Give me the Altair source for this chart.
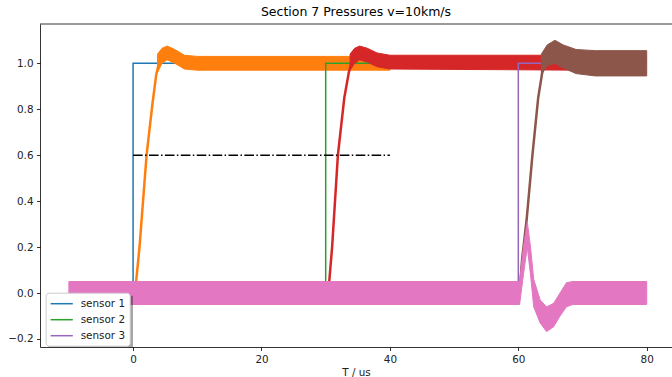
import altair as alt
import pandas as pd

# ---- data ----
# ideal step signals (legend entries)
step_sensor = ["sensor 1"] * 3 + ["sensor 2"] * 3 + ["sensor 3"] * 3
step_t = [0, 0, 40, 30, 30, 65, 60, 60, 75]
step_p = [0, 1, 1, 0, 1, 1, 0, 1, 1]

# measured trace 1 (orange): centre line + noise envelope
s1_t = [-10, 0.3, 1.0, 2.1, 3.0, 3.6, 4.2, 5.0, 6.0, 7.0, 8.5, 10, 40]
s1_p = [0, 0, 0.2, 0.6, 0.82, 0.95, 1.02, 1.045, 1.04, 1.02, 1.0, 0.998, 1.0]
s1_bt = [3.8, 4.5, 5.3, 6.5, 8.0, 10, 40]
s1_lo = [0.96, 1.0, 1.015, 1.0, 0.975, 0.97, 0.97]
s1_hi = [1.04, 1.065, 1.075, 1.06, 1.035, 1.03, 1.03]

# measured trace 2 (red)
s2_t = [-10, 30.4, 31.0, 31.9, 32.9, 33.6, 34.2, 35.0, 36.0, 37.0, 38.5, 40, 70]
s2_p = [0, 0, 0.2, 0.6, 0.85, 0.96, 1.02, 1.045, 1.04, 1.025, 1.01, 1.005, 1.0]
s2_bt = [33.8, 34.5, 35.3, 36.5, 38.0, 40, 70]
s2_lo = [0.97, 1.0, 1.015, 1.005, 0.985, 0.975, 0.97]
s2_hi = [1.04, 1.065, 1.075, 1.065, 1.045, 1.035, 1.035]

# measured trace 3 (brown)
s3_t = [-10, 60.2, 60.6, 61.3, 62.2, 63.1, 63.9, 64.8, 65.7, 67.0, 68.5, 70, 80]
s3_p = [0, 0, 0.15, 0.32, 0.6, 0.85, 0.99, 1.04, 1.05, 1.03, 1.01, 1.0, 1.0]
s3_bt = [63.6, 64.5, 65.7, 67.0, 69.0, 72.0, 80]
s3_lo = [0.95, 0.99, 1.0, 0.98, 0.955, 0.945, 0.945]
s3_hi = [1.04, 1.08, 1.1, 1.08, 1.06, 1.055, 1.055]

# pink trace: noise envelope only
pk_t = [-10, 60.2, 60.8, 61.4, 61.9, 62.4, 63.4, 64.4, 65.5, 66.5, 67.5, 68.5, 80]
pk_hi = [0.05, 0.05, 0.2, 0.31, 0.2, 0.06, -0.03, -0.06, -0.045, 0.0, 0.045, 0.05, 0.05]
pk_lo = [-0.05, -0.05, 0.08, 0.2, 0.08, -0.06, -0.13, -0.168, -0.147, -0.1, -0.06, -0.05, -0.05]

# dash-dot reference level
ref_t = [0, 40]
ref_p = [0.6, 0.6]

x_ticks = [0, 20, 40, 60, 80]
y_ticks = [-0.2, 0.0, 0.2, 0.4, 0.6, 0.8, 1.0]

FONT = "DejaVu Sans"
W, H = 632, 323

xscale = alt.Scale(domain=[-14.5, 83.94], nice=False, zero=False)
yscale = alt.Scale(domain=[-0.235, 1.171], nice=False, zero=False)
xaxis = alt.Axis(values=x_ticks, title="T / us", format="d", titlePadding=3)
yaxis = alt.Axis(values=y_ticks, title=None, format=".1f")


def X(f):
    return alt.X(f"{f}:Q", scale=xscale, axis=xaxis)


def Y(f):
    return alt.Y(f"{f}:Q", scale=yscale, axis=yaxis)


steps = pd.DataFrame({"sensor": step_sensor, "t": step_t, "p": step_p,
                      "i": list(range(len(step_t)))})
color_scale = alt.Scale(domain=["sensor 1", "sensor 2", "sensor 3"],
                        range=["#1f77b4", "#2ca02c", "#9467bd"])
legend = alt.Legend(title=None, orient="none", legendX=5.7, legendY=268.7,
                    fillColor="white", strokeColor="#cccccc", cornerRadius=3,
                    padding=4, symbolType="M-1.85,0H1.85", symbolSize=144,
                    symbolStrokeWidth=1.5, symbolOffset=5, labelOffset=12,
                    rowPadding=3, labelFont=FONT, labelFontSize=10.4,
                    labelColor="#222222")


def step(name):
    return alt.Chart(steps).transform_filter(alt.datum.sensor == name).mark_line(
        strokeWidth=1.5).encode(
        x=X("t"), y=Y("p"),
        color=alt.Color("sensor:N", scale=color_scale, legend=legend),
        order="i:Q")


def trace(t, p, color):
    df = pd.DataFrame({"t": t, "p": p})
    return alt.Chart(df).mark_line(color=color, strokeWidth=2.5).encode(x=X("t"), y=Y("p"))


def band(t, lo, hi, color):
    df = pd.DataFrame({"t": t, "lo": lo, "hi": hi})
    return alt.Chart(df).mark_area(color=color, stroke=color, strokeWidth=1).encode(
        x=X("t"), y=Y("lo"), y2="hi")


ref = alt.Chart(pd.DataFrame({"t": ref_t, "p": ref_p})).mark_line(
    color="black", strokeWidth=1.5, strokeDash=[9.6, 2.4, 1.5, 2.4]).encode(x=X("t"), y=Y("p"))

top_spine = alt.Chart(pd.DataFrame({"a": [0]})).mark_rule(color="black", strokeWidth=0.8).encode(
    x=alt.value(0), x2=alt.value(W), y=alt.value(0))

shadow = alt.Chart(pd.DataFrame({"a": [0]})).mark_rect(color="#000000", opacity=0.35).encode(
    x=alt.value(8.7), x2=alt.value(93), y=alt.value(271.7), y2=alt.value(323))

chart = alt.layer(
    step("sensor 1"),
    trace(s1_t, s1_p, "#ff7f0e"), band(s1_bt, s1_lo, s1_hi, "#ff7f0e"),
    step("sensor 2"),
    trace(s2_t, s2_p, "#d62728"), band(s2_bt, s2_lo, s2_hi, "#d62728"),
    step("sensor 3"),
    trace(s3_t, s3_p, "#8c564b"), band(s3_bt, s3_lo, s3_hi, "#8c564b"),
    band(pk_t, pk_lo, pk_hi, "#e377c2"),
    ref, top_spine, shadow,
).properties(
    width=W, height=H,
    title=alt.TitleParams("Section 7 Pressures v=10km/s", font=FONT, fontSize=12.5,
                          fontWeight="normal", color="black", anchor="middle", offset=5),
    autosize=alt.AutoSizeParams(type="none"),
    padding={"left": 40, "top": 24, "right": 0, "bottom": 30},
).configure_view(stroke=None).configure_axis(
    domainColor="black", domainWidth=0.8, tickColor="black", tickWidth=0.8,
    tickSize=3.5, labelPadding=3.5, labelFont=FONT, labelFontSize=10.4,
    labelColor="#222222", titleFont=FONT, titleFontSize=10.4, titleColor="#222222",
    titleFontWeight="normal", grid=False,
)

chart.save("out.html", embed_options={"renderer": "svg", "actions": False})
